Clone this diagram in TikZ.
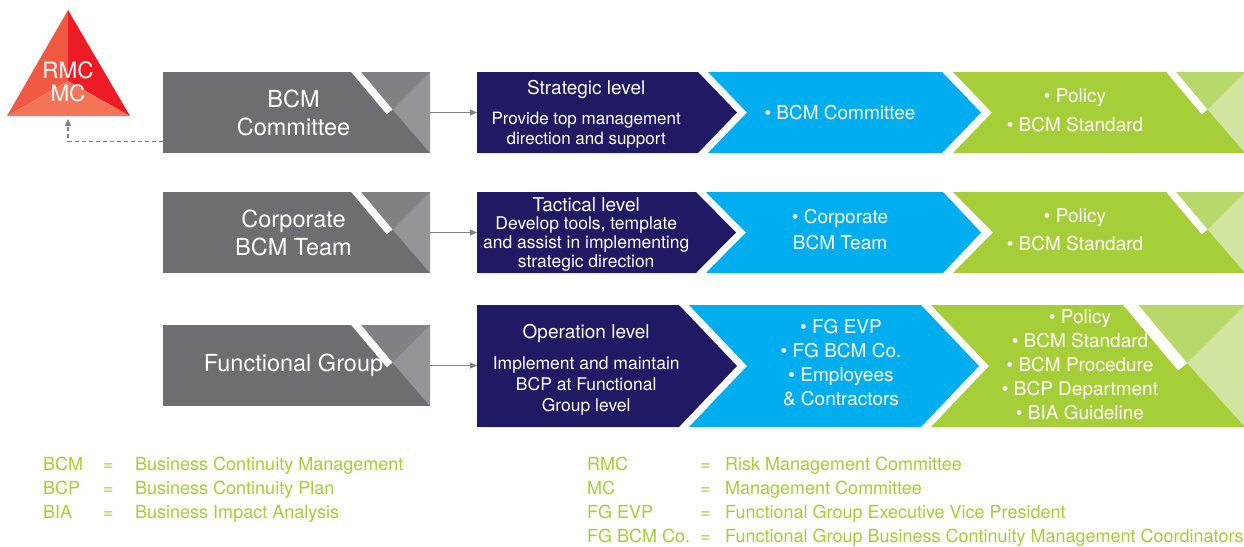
\documentclass[tikz,border=0pt]{standalone}
\usepackage{fontspec}
\setmainfont{TeX Gyre Heros}
\usepackage{xcolor}
\usetikzlibrary{arrows.meta}
\definecolor{bcmgray}{HTML}{6D6E71}
\definecolor{foldgray}{HTML}{808285}
\definecolor{facegray}{HTML}{939598}
\definecolor{linkgray}{HTML}{7F8083}
\definecolor{bcmnavy}{HTML}{1F1A63}
\definecolor{bcmblue}{HTML}{00AEEF}
\definecolor{bcmgreen}{HTML}{A6CE39}
\definecolor{foldgreen}{HTML}{B9D86C}
\definecolor{facegreen}{HTML}{D1E4A0}
\definecolor{rmcred}{HTML}{ED1C24}
\definecolor{rmcleft}{HTML}{F05A42}
\definecolor{rmcbottom}{HTML}{F37457}
% folded corner: #1 right, #2 top, #3 bottom, #4 size, #5 fold colour, #6 face colour
\newcommand{\foldcorner}[6]{%
  \fill[#5] (#1-1.84*#4,#2) -- (#1,#2) -- (#1-#4,#2+#4) -- cycle;
  \fill[white] (#1-2.1*#4,#2) -- (#1-1.84*#4,#2) -- (#1-#4,#2+#4)
    -- (#1-1.153*#4,#2+1.129*#4) -- cycle;
  \fill[#6] (#1-#4,#2+#4) -- (#1,#2) -- (#1,#3) -- cycle;}

\begin{document}
\begin{tikzpicture}[x=1pt, y=-1pt,
    boxtext/.style={text=white, align=center, inner sep=0pt,
      minimum width=267pt, font=\fontsize{23.5}{28}\selectfont},
    lvltext/.style={text=white, align=center, inner sep=0pt, anchor=west,
      minimum width=218pt},
    itemtext/.style={text=white, align=center, inner sep=0pt},
    tritext/.style={text=white, align=center, inner sep=0pt,
      font=\fontsize{22.5}{23}\selectfont},
    legendtext/.style={text=bcmgreen, anchor=base west, inner sep=0pt,
      font=\fontsize{18}{20}\selectfont},
    linkarrow/.style={draw=linkgray, line width=1.2pt,
      -{Triangle[length=7pt,width=6pt]}},
    dashlink/.style={linkarrow, dash pattern=on 4pt off 3pt}]
	\useasboundingbox[fill=white] (0,0) rectangle (1244,546);
			%   %   %   %   %   %   %   %   %   %   %
			%   RMC / MC
				\fill[rmcleft] (68,10) -- (68,81) -- (7,116) -- cycle;
				\fill[rmcred] (68,10) -- (130,116) -- (68,81) -- cycle;
				\fill[rmcbottom] (7,116) -- (68,81) -- (130,116) -- cycle;
				\node[tritext] (rmc) at (68,81.5) {RMC\\MC};
				\coordinate (rmcfoot) at (68,119);
			%   %   %   %   %   %   %   %   %   %   %
			%   Strategic row
				\fill[bcmgray] (163,72) rectangle (430,153);
				\foldcorner{430}{72}{153}{37.5}{foldgray}{facegray}
				\node[boxtext, minimum height=81pt] (bcm) at (296.5,112.5) {BCM\hspace*{6pt}\\Committee\hspace*{6pt}};
				\fill[bcmnavy] (477,72) -- (698,72) -- (737,112.5) -- (698,153) -- (477,153) -- cycle;
				\node[lvltext, font=\fontsize{17}{20}\selectfont] (strat) at (477,114.5)
				{{\fontsize{19}{20}\selectfont Strategic level}\\[10pt]Provide top management\\direction and support};
				\fill[bcmblue] (708,72) -- (942,72) -- (981,112.5) -- (942,153) -- (708,153) -- (747,112.5) -- cycle;
				\node[itemtext, font=\fontsize{19}{29}\selectfont] (stratwho) at (840,113) {• BCM Committee};
				\fill[bcmgreen] (953,72) -- (1245,72) -- (1245,153) -- (953,153) -- (992,112.5) -- cycle;
				\foldcorner{1245}{72}{153}{37.5}{foldgreen}{facegreen}
				\node[itemtext, font=\fontsize{19}{29}\selectfont] (stratdoc) at (1075,110.5) {• Policy\\• BCM Standard};
				\draw[linkarrow] (bcm.east) -- (bcm.east -| strat.west);
				\draw[dashlink] ([yshift=12pt]bcm.south west) -| (rmcfoot);
			%   %   %   %   %   %   %   %   %   %   %
			%   Tactical row
				\fill[bcmgray] (163,192) rectangle (430,273);
				\foldcorner{430}{192}{273}{37.5}{foldgray}{facegray}
				\node[boxtext, minimum height=81pt] (cbt) at (296.5,232.5) {Corporate\hspace*{6pt}\\BCM Team\hspace*{6pt}};
				\fill[bcmnavy] (477,192) -- (696,192) -- (736,232.5) -- (696,273) -- (477,273) -- cycle;
				\node[lvltext, font=\fontsize{17.5}{19}\selectfont] (tact) at (477,234.5)
				{{\fontsize{19}{19}\selectfont Tactical level}\\[-1pt]Develop tools, template\\and assist in implementing\\strategic direction};
				\fill[bcmblue] (706,192) -- (943,192) -- (981,232.5) -- (943,273) -- (706,273) -- (746,232.5) -- cycle;
				\node[itemtext, font=\fontsize{19}{26}\selectfont] (tactwho) at (840,230) {• Corporate\\BCM Team};
				\fill[bcmgreen] (953,192) -- (1245,192) -- (1245,273) -- (953,273) -- (993,232.5) -- cycle;
				\foldcorner{1245}{192}{273}{37.5}{foldgreen}{facegreen}
				\node[itemtext, font=\fontsize{19}{28}\selectfont] (tactdoc) at (1075,230) {• Policy\\• BCM Standard};
				\draw[linkarrow] (cbt.east) -- (cbt.east -| tact.west);
			%   %   %   %   %   %   %   %   %   %   %
			%   Operation row
				\fill[bcmgray] (163,325) rectangle (430,406);
				\foldcorner{430}{325}{406}{37.5}{foldgray}{facegray}
				\node[boxtext, minimum height=81pt] (fg) at (296.5,365.5) {Functional Group\hspace*{6pt}};
				\fill[bcmnavy] (477,305) -- (679,305) -- (737,366) -- (679,427) -- (477,427) -- cycle;
				\node[lvltext, font=\fontsize{17.5}{21}\selectfont] (oper) at (477,370)
				{{\fontsize{19}{21}\selectfont Operation level}\\[10pt]Implement and maintain\\BCP at Functional\\Group level};
				\fill[bcmblue] (689,305) -- (921,305) -- (979,366) -- (921,427) -- (689,427) -- (747,366) -- cycle;
				\node[itemtext, font=\fontsize{19}{24}\selectfont] (operwho) at (841,363)
				{• FG EVP\\• FG BCM Co.\\• Employees\\\& Contractors};
				\fill[bcmgreen] (931,305) -- (1245,305) -- (1245,427) -- (931,427) -- (989,366) -- cycle;
				\foldcorner{1245}{305}{427}{58}{foldgreen}{facegreen}
				\node[itemtext, font=\fontsize{19}{24}\selectfont] (operdoc) at (1080,365)
				{• Policy\\• BCM Standard\\• BCM Procedure\\• BCP Department\\• BIA Guideline};
				\draw[linkarrow] (fg.east) -- (fg.east -| oper.west);
			%   %   %   %   %   %   %   %   %   %   %
			%   Abbreviations
				\node[legendtext] (lgbcm) at (43,470) {\makebox[60pt][l]{BCM}\makebox[32pt][l]{=}Business Continuity Management};
				\node[legendtext] (lgbcp) at (43,494) {\makebox[60pt][l]{BCP}\makebox[32pt][l]{=}Business Continuity Plan};
				\node[legendtext] (lgbia) at (43,518) {\makebox[60pt][l]{BIA}\makebox[32pt][l]{=}Business Impact Analysis};
				\node[legendtext] (lgrmc) at (587,470) {\makebox[113pt][l]{RMC}\makebox[25pt][l]{=}Risk Management Committee};
				\node[legendtext] (lgmc) at (587,494) {\makebox[113pt][l]{MC}\makebox[25pt][l]{=}Management Committee};
				\node[legendtext] (lgevp) at (587,518) {\makebox[113pt][l]{FG EVP}\makebox[25pt][l]{=}Functional Group Executive Vice President};
				\node[legendtext] (lgco) at (587,542) {\makebox[113pt][l]{FG BCM Co.}\makebox[25pt][l]{=}Functional Group Business Continuity Management Coordinators};
\end{tikzpicture}
\end{document}
